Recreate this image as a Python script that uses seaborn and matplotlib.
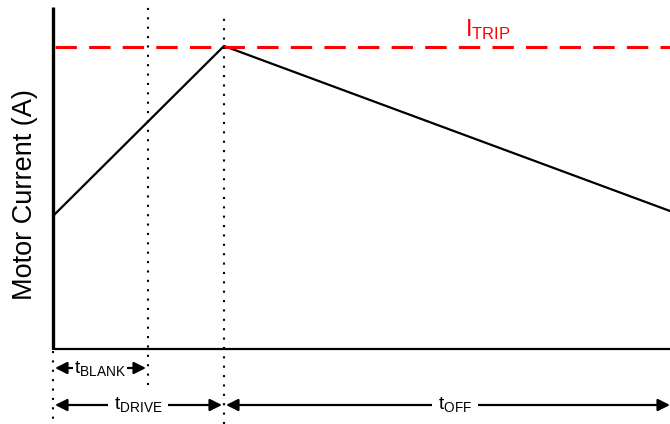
import numpy as np
import pandas as pd
import seaborn as sns
from matplotlib import pyplot as plt

# time points (arbitrary units) and the motor current at each
t_points = [0, 171, 617]
current = [133, 303, 138]
i_trip = 302
t_blank = 95
t_drive = 171
t_end = 617
y_top = 342

sns.set_style("white")
plt.rcParams['font.family'] = ['Liberation Sans', 'DejaVu Sans']
plt.rcParams['mathtext.fontset'] = 'custom'
plt.rcParams['mathtext.rm'] = 'Liberation Sans'
plt.rcParams['text.color'] = 'black'

fig = plt.figure(figsize=(6.7, 4.24), dpi=100)
ax = fig.add_axes([0, 0, 1, 1])
ax.set_xlim(-53, 617)
ax.set_ylim(-75, 349)
ax.axis('off')

df = pd.DataFrame({'t': t_points, 'I': current})
sns.lineplot(data=df, x='t', y='I', color='black', lw=1.6, ax=ax)

# axes
ax.plot([0, 0], [0, y_top], color='black', lw=2.4, solid_capstyle='butt')
ax.plot([0, t_end], [0, 0], color='black', lw=1.6)

# trip level
ax.plot([2, t_end], [i_trip, i_trip], color='#ff0000', lw=2.2, dashes=(7, 4))
ax.text(435, 319, r'$\mathrm{I_{TRIP}}$', color='#ff0000', fontsize=17, ha='center', va='center')

# dotted markers
ax.plot([t_blank, t_blank], [-36, y_top], color='black', lw=1.5, dashes=(1, 3.5))
ax.plot([t_drive, t_drive], [-75, 336], color='black', lw=1.5, dashes=(1, 3.5))
ax.plot([0, 0], [-2, -75], color='black', lw=1.5, dashes=(1, 3.5))

def span(x0, x1, y, label, xt, pad):
    ax.annotate('', xy=(x1, y), xytext=(x0, y),
                arrowprops=dict(arrowstyle='<|-|>', color='black', lw=1.6,
                                mutation_scale=18, shrinkA=0, shrinkB=0))
    ax.text(xt, y, label, fontsize=14, ha='center', va='center', color='black',
            bbox=dict(facecolor='white', edgecolor='none', pad=pad))

span(2, t_blank - 2, -19, r'$\mathrm{t_{BLANK}}$', 47, 0.5)
span(2, t_drive - 2, -56, r'$\mathrm{t_{DRIVE}}$', 85, 4)
span(t_drive + 2, t_end, -56, r'$\mathrm{t_{OFF}}$', 402, 4)

ax.text(-28, 154, 'Motor Current (A)', fontsize=19.5, rotation=90, ha='center', va='center', color='black')

fig.savefig('out.png', dpi=100)
